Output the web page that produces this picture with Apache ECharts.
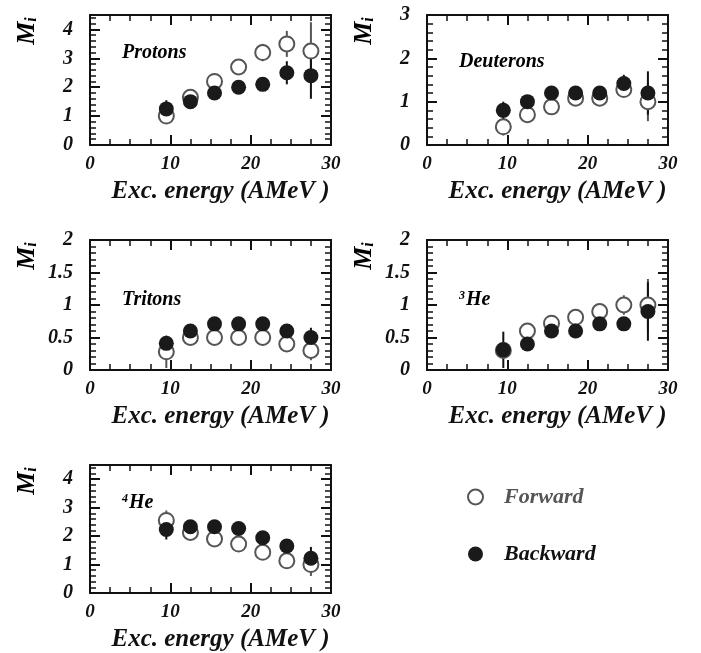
<!DOCTYPE html>
<html>
<head>
<meta charset="utf-8">
<script src="https://cdn.jsdelivr.net/npm/echarts@6/dist/echarts.min.js"></script>
<style>
    html, body {margin: 0; padding: 0; background: #fff;}
    #chart {width: 701px; height: 653px;}
</style>
</head>
<body>
<div id="chart"></div>
<script>
// excitation energy bins (AMeV)
var energy = [9.5, 12.5, 15.5, 18.5, 21.5, 24.5, 27.5];

// multiplicities, forward / backward, with error bars
var protonsFwd = [1.0, 1.65, 2.2, 2.7, 3.2, 3.5, 3.25];
var protonsBwd = [1.25, 1.5, 1.8, 2.0, 2.1, 2.5, 2.4];
var protonsFwdErr = [0, 0, 0, 0, 0.3, 0.45, 1.0];
var protonsBwdErr = [0.3, 0, 0, 0, 0, 0.4, 0.8];

var deuteronsFwd = [0.42, 0.7, 0.88, 1.08, 1.08, 1.28, 1.0];
var deuteronsBwd = [0.8, 1.0, 1.2, 1.2, 1.2, 1.42, 1.2];
var deuteronsFwdErr = [0.2, 0, 0, 0, 0, 0, 0.45];
var deuteronsBwdErr = [0.2, 0, 0, 0, 0, 0.2, 0.5];

var tritonsFwd = [0.28, 0.5, 0.5, 0.5, 0.5, 0.4, 0.3];
var tritonsBwd = [0.41, 0.6, 0.71, 0.71, 0.71, 0.6, 0.5];
var tritonsFwdErr = [0.25, 0, 0, 0, 0, 0, 0.15];
var tritonsBwdErr = [0, 0, 0, 0, 0, 0, 0.15];

var he3Fwd = [0.3, 0.6, 0.72, 0.81, 0.9, 1.0, 1.0];
var he3Bwd = [0.31, 0.4, 0.6, 0.6, 0.71, 0.71, 0.9];
var he3FwdErr = [0, 0, 0, 0, 0, 0.15, 0.4];
var he3BwdErr = [0.28, 0, 0, 0, 0, 0, 0.45];

var he4Fwd = [2.55, 2.13, 1.9, 1.72, 1.43, 1.13, 1.0];
var he4Bwd = [2.23, 2.33, 2.33, 2.27, 1.94, 1.65, 1.22];
var he4FwdErr = [0.35, 0, 0, 0, 0, 0, 0.4];
var he4BwdErr = [0.35, 0, 0, 0, 0, 0, 0.4];

// axis ranges per panel
var xTicks = [0, 10, 20, 30];
var yMax = [4.5, 3, 2, 2, 4.5];
var yStep = [1, 1, 0.5, 0.5, 1];
var panelLabels = ['{t|Protons}', '{t|Deuterons}', '{t|Tritons}', '{s|3}{t|He}', '{s|4}{t|He}'];

var panelData = [
    [protonsFwd, protonsBwd, protonsFwdErr, protonsBwdErr],
    [deuteronsFwd, deuteronsBwd, deuteronsFwdErr, deuteronsBwdErr],
    [tritonsFwd, tritonsBwd, tritonsFwdErr, tritonsBwdErr],
    [he3Fwd, he3Bwd, he3FwdErr, he3BwdErr],
    [he4Fwd, he4Bwd, he4FwdErr, he4BwdErr]
];

var FONT = "'Liberation Serif', 'DejaVu Serif', serif";
var INK = '#111';
var GREY = '#555';

// grid boxes [left, top]
var gridPos = [[90, 15], [427, 15], [90, 240], [427, 240], [90, 465]];
var GW = 241, GH = 130;

var grids = [], xAxes = [], yAxes = [], series = [], graphics = [];

function textStyle(size, color) {
    return {fontFamily: FONT, fontSize: size, fontStyle: 'italic', fontWeight: 'bold', color: color || INK};
}

gridPos.forEach(function (pos, g) {
    grids.push({left: pos[0], top: pos[1], width: GW, height: GH});

    var lineStyle = {color: INK, width: 2};
    var tick = {show: true, inside: true, length: 10, lineStyle: {color: INK, width: 2}};

    // bottom + top x axes
    [0, 1].forEach(function (k) {
        xAxes.push({
            type: 'value', gridIndex: g, position: k ? 'top' : 'bottom',
            min: xTicks[0], max: xTicks[xTicks.length - 1], interval: xTicks[1] - xTicks[0],
            axisLine: {show: true, onZero: false, lineStyle: lineStyle},
            axisTick: tick,
            minorTick: {show: true, splitNumber: 4, length: 6, lineStyle: {color: INK, width: 1.5}},
            splitLine: {show: false},
            axisLabel: k ? {show: false} : Object.assign({margin: 10}, textStyle(19)),
            name: k ? '' : 'Exc. energy (AMeV )',
            nameLocation: 'middle',
            nameGap: 34,
            nameTextStyle: Object.assign({padding: [0, 0, 0, 20]}, textStyle(25))
        });
    });

    // left + right y axes
    [0, 1].forEach(function (k) {
        var step = yStep[g];
        yAxes.push({
            type: 'value', gridIndex: g, position: k ? 'right' : 'left',
            min: 0, max: yMax[g], interval: step,
            axisLine: {show: true, onZero: false, lineStyle: lineStyle},
            axisTick: tick,
            minorTick: {show: true, splitNumber: 5, length: 6, lineStyle: {color: INK, width: 1.5}},
            splitLine: {show: false},
            axisLabel: k ? {show: false} : Object.assign({
                margin: 17,
                formatter: function (v) {
                    var r = v / step;
                    return Math.abs(r - Math.round(r)) < 1e-6 ? String(v) : '';
                }
            }, textStyle(20))
        });
    });

    var d = panelData[g];
    var xi = 2 * g, yi = 2 * g;

    // error bars first so the markers sit on top
    [[d[0], d[2], GREY], [d[1], d[3], INK]].forEach(function (s) {
        var bars = [];
        energy.forEach(function (e, i) {
            if (s[1][i] > 0) bars.push([e, s[0][i] - s[1][i], s[0][i] + s[1][i]]);
        });
        series.push({
            type: 'custom', xAxisIndex: xi, yAxisIndex: yi, z: 1, silent: true,
            encode: {x: 0, y: [1, 2]},
            data: bars,
            renderItem: (function (color) {
                return function (params, api) {
                    var p1 = api.coord([api.value(0), api.value(1)]);
                    var p2 = api.coord([api.value(0), api.value(2)]);
                    return {
                        type: 'line',
                        shape: {x1: p1[0], y1: p1[1], x2: p2[0], y2: p2[1]},
                        style: {stroke: color, lineWidth: 2}
                    };
                };
            })(s[2])
        });
    });

    series.push({
        name: 'Forward', type: 'scatter', xAxisIndex: xi, yAxisIndex: yi, z: 2,
        symbol: 'circle', symbolSize: 15,
        itemStyle: {color: '#fff', borderColor: GREY, borderWidth: 2, opacity: 1},
        data: energy.map(function (e, i) { return [e, d[0][i]]; })
    });
    series.push({
        name: 'Backward', type: 'scatter', xAxisIndex: xi, yAxisIndex: yi, z: 3,
        symbol: 'circle', symbolSize: 15,
        itemStyle: {color: '#1a1a1a', opacity: 1},
        data: energy.map(function (e, i) { return [e, d[1][i]]; })
    });

    // y axis title M_i
    graphics.push({
        type: 'text', x: pos[0] - 63, y: pos[1] + 16, rotation: Math.PI / 2,
        style: {
            text: '{m|M}{i|i}',
            align: 'center', verticalAlign: 'middle',
            rich: {
                m: textStyle(26),
                i: Object.assign({verticalAlign: 'bottom', padding: [10, 0, 0, 0]}, textStyle(16))
            }
        }
    });

    // panel label
    graphics.push({
        type: 'text', x: pos[0] + 32, y: pos[1] + [38, 47, 60, 60, 38][g],
        style: {
            text: panelLabels[g],
            align: 'left', verticalAlign: 'middle',
            rich: {
                t: textStyle(20),
                s: Object.assign({verticalAlign: 'top', padding: [0, 1, 6, 0]}, textStyle(12))
            }
        }
    });
});

var myChart = echarts.init(document.getElementById('chart'));
myChart.setOption({
    animation: false,
    backgroundColor: '#fff',
    grid: grids,
    xAxis: xAxes,
    yAxis: yAxes,
    legend: {
        orient: 'vertical', left: 462, top: 481,
        itemWidth: 15, itemHeight: 15, itemGap: 35,
        data: ['Forward', 'Backward'],
        formatter: function (name) {
            return name === 'Forward' ? '{f|Forward}' : '{b|Backward}';
        },
        textStyle: {
            rich: {
                f: Object.assign({padding: [0, 0, 0, 16]}, textStyle(22, GREY)),
                b: Object.assign({padding: [0, 0, 0, 16]}, textStyle(22, INK))
            }
        }
    },
    graphic: graphics,
    series: series
});
</script>
</body>
</html>
